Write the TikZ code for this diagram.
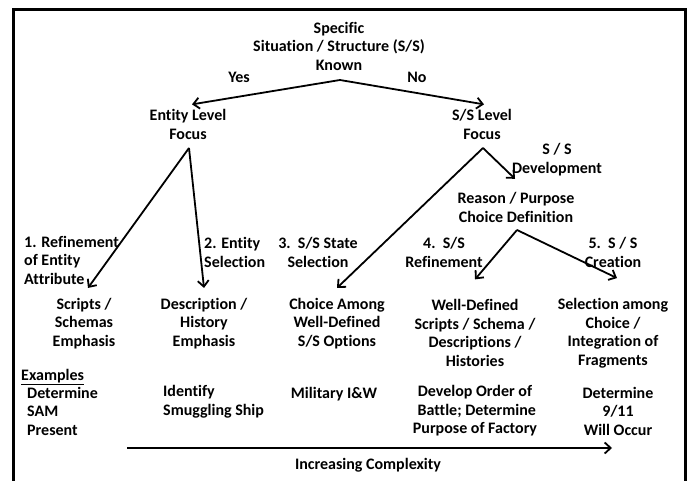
\documentclass[tikz,border=0pt]{standalone}
\usepackage{fontspec}
\setmainfont{Carlito}[Ligatures=CommonOff]
\usetikzlibrary{arrows.meta}
\begin{document}
\begin{tikzpicture}[x=1pt,y=-1pt,
  lbl/.style={font=\bfseries\fontsize{16}{18.5}\selectfont, align=center, inner sep=1pt},
  lbll/.style={lbl, align=left},
  arr/.style={line width=1.8pt, -{Straight Barb[length=6pt,width=11pt]}}]
\useasboundingbox (0,0) rectangle (691,481);
% open-bottom frame
\draw[line width=3pt] (13.5,495) -- (13.5,10) -- (685.5,10) -- (685.5,495);

% decision at the top
\node[lbl] (top) at (339,46) {Specific\\Situation / Structure (S/S)\\Known};
\node[lbl] (yes) at (239,77) {Yes};
\node[lbl] (no) at (417,77) {No};
\node[lbl] (entity) at (188,124.5) {Entity Level\\Focus};
\node[lbl] (sslevel) at (482,124.5) {S/S Level\\Focus};
\node[lbl] (dev) at (557,159.5) {S / S\\Development};
\node[lbl] (reason) at (516,207.5) {Reason / Purpose\\Choice Definition};

% branch labels
\node[lbll, anchor=west] (l1) at (23,260) {1. Refinement\\of Entity\\Attribute};
\node[lbll, anchor=west] (l2) at (203,252.5) {2. Entity\\Selection};
\node[lbl] (l3) at (318,252.5) {3.~~S/S State\\Selection};
\node[lbl] (l4) at (444,252.5) {4.~~S/S\\Refinement};
\node[lbl] (l5) at (613,252.5) {5.~~S / S\\Creation};

% outcomes
\node[lbl] (scripts) at (84,323.5) {Scripts /\\Schemas\\Emphasis};
\node[lbl] (desc) at (204,323.5) {Description /\\History\\Emphasis};
\node[lbl] (choice) at (337,323.5) {Choice Among\\Well-Defined\\S/S Options};
\node[lbl] (well) at (475,333) {Well-Defined\\Scripts / Schema /\\Descriptions /\\Histories};
\node[lbl] (sel) at (613,333) {Selection among\\Choice /\\Integration of\\Fragments};

% examples
\node[lbll, anchor=west] (exhead) at (20,377) {\underline{Examples}};
\node[lbll, anchor=west] (ex1) at (26,411) {Determine\\SAM\\Present};
\node[lbll, anchor=west] (ex2) at (162,401.5) {Identify\\Smuggling Ship};
\node[lbl] (ex3) at (334,394) {Military I\&W};
\node[lbl] (ex4) at (475,411) {Develop Order of\\\ Battle; Determine\\Purpose of Factory};
\node[lbl] (ex5) at (618,411) {Determine\\9/11\\Will Occur};

% complexity axis
\coordinate (cs) at (127,448);
\coordinate (ce) at (612,448);
\node[lbl] (cx) at (368,465) {Increasing Complexity};

% branch points
\coordinate (a0) at (340,80);
\coordinate (a1) at (189,148);
\coordinate (a2) at (483,148);
\coordinate (a3) at (517,230);

\draw[arr] (a0) -- ([xshift=4pt,yshift=4pt]entity.north);
\draw[arr] (a0) -- ([xshift=2pt,yshift=4pt]sslevel.north);
\draw[arr] (a1) -- ([xshift=4pt,yshift=9pt]scripts.north);
\draw[arr] (a1) -- ([yshift=9pt]desc.north);
\draw[arr] (a2) -- ([yshift=9pt]choice.north);
\draw[arr] (a2) -- ([xshift=-42pt,yshift=-2pt]dev.south);
\draw[arr] (a3) -- ([yshift=19pt]well.north);
\draw[arr] (a3) -- ([xshift=4pt,yshift=19pt]sel.north);
\draw[arr] (cs) -- (ce);
\end{tikzpicture}
\end{document}
